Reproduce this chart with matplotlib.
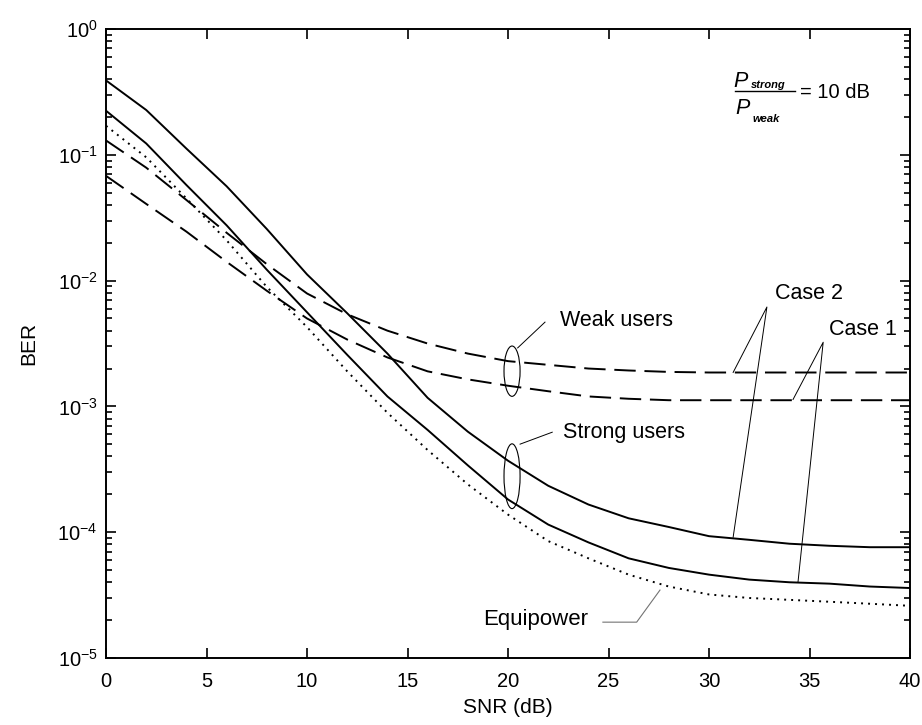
import matplotlib
matplotlib.use("Agg")
import matplotlib.pyplot as plt
from matplotlib.patches import Ellipse
from matplotlib.ticker import LogLocator, NullFormatter, FixedLocator

plt.rcParams['font.family'] = ['Liberation Sans', 'DejaVu Sans']
plt.rcParams['mathtext.fontset'] = 'custom'
plt.rcParams['mathtext.rm'] = 'Liberation Sans'
plt.rcParams['mathtext.it'] = 'Liberation Sans:italic'
plt.rcParams['mathtext.bf'] = 'Liberation Sans:bold'

# SNR grid (dB)
snr = [0, 2, 4, 6, 8, 10, 12, 14, 16, 18, 20, 22, 24, 26, 28, 30, 32, 34, 36, 38, 40]

# Strong users, case 2
strong_case2 = [0.39, 0.227, 0.112, 0.0562, 0.0257, 0.0112, 0.0055, 0.00263, 0.00117,
                6.3e-4, 3.7e-4, 2.34e-4, 1.66e-4, 1.29e-4, 1.10e-4, 9.3e-5, 8.7e-5,
                8.1e-5, 7.8e-5, 7.6e-5, 7.6e-5]
# Strong users, case 1
strong_case1 = [0.224, 0.123, 0.0575, 0.0275, 0.0122, 0.0056, 0.00257, 0.0012, 6.5e-4,
                3.4e-4, 1.82e-4, 1.15e-4, 8.3e-5, 6.2e-5, 5.2e-5, 4.6e-5, 4.2e-5,
                4.0e-5, 3.9e-5, 3.7e-5, 3.6e-5]
# Equal received powers
equipower = [0.17, 0.0955, 0.045, 0.0209, 0.0089, 0.00427, 0.0019, 8.9e-4, 4.5e-4,
             2.4e-4, 1.38e-4, 8.5e-5, 6.2e-5, 4.6e-5, 3.7e-5, 3.2e-5, 3.0e-5,
             2.9e-5, 2.8e-5, 2.7e-5, 2.6e-5]
# Weak users, case 2
weak_case2 = [0.13, 0.079, 0.0437, 0.024, 0.0135, 0.0079, 0.0054, 0.004, 0.00316,
              0.00263, 0.00229, 0.00214, 0.002, 0.00193, 0.00188, 0.00186, 0.00186,
              0.00186, 0.00186, 0.00186, 0.00186]
# Weak users, case 1
weak_case1 = [0.068, 0.0407, 0.0245, 0.0141, 0.0083, 0.005, 0.0034, 0.00245, 0.0019,
              0.00164, 0.00146, 0.00132, 0.0012, 0.00115, 0.00112, 0.00112, 0.00112,
              0.00112, 0.00112, 0.00112, 0.00112]

x_ticks = [0, 5, 10, 15, 20, 25, 30, 35, 40]

fig = plt.figure(figsize=(9.22, 7.25), dpi=100)
ax = fig.add_axes([0.115, 0.0924, 0.872, 0.8676])

lw = 1.4
dash = (0, (11, 4.5))
ax.semilogy(snr, strong_case2, color='black', lw=lw)
ax.semilogy(snr, strong_case1, color='black', lw=lw)
ax.semilogy(snr, equipower, color='black', lw=lw, linestyle=(0, (1.0, 2.6)))
ax.semilogy(snr, weak_case2, color='black', lw=lw, linestyle=dash)
ax.semilogy(snr, weak_case1, color='black', lw=lw, linestyle=dash)

ax.set_xlim(0, 40)
ax.set_ylim(1e-5, 1)
ax.xaxis.set_major_locator(FixedLocator(x_ticks))
ax.yaxis.set_major_locator(LogLocator(base=10, numticks=10))
ax.yaxis.set_minor_locator(LogLocator(base=10, subs=range(2, 10), numticks=20))
ax.yaxis.set_minor_formatter(NullFormatter())
ax.tick_params(which='both', direction='in', top=True, right=True, labelsize=14.5, width=1.2)
ax.tick_params(which='major', length=7)
ax.tick_params(which='minor', length=4)
ax.tick_params(axis='x', pad=10)
ax.tick_params(axis='y', pad=6)
for s in ax.spines.values():
    s.set_linewidth(1.4)

ax.set_xlabel('SNR (dB)', fontsize=15, labelpad=5)
ax.set_ylabel('BER', fontsize=15, labelpad=14)

# annotations
fs = 15.5
ta = ax.transAxes
thin = dict(color='black', lw=0.7)

ax.add_patch(Ellipse((0.505, 0.456), 0.02, 0.08, transform=ta, fill=False, lw=0.8, ec='black'))
ax.plot([0.512, 0.546], [0.493, 0.534], transform=ta, **thin)
ax.text(0.565, 0.536, 'Weak users', transform=ta, fontsize=fs, va='center', ha='left')

ax.add_patch(Ellipse((0.505, 0.289), 0.02, 0.103, transform=ta, fill=False, lw=0.8, ec='black'))
ax.plot([0.515, 0.555], [0.340, 0.359], transform=ta, **thin)
ax.text(0.568, 0.359, 'Strong users', transform=ta, fontsize=fs, va='center', ha='left')

ax.plot([0.780, 0.822, 0.780], [0.454, 0.558, 0.192], transform=ta, **thin)
ax.text(0.874, 0.580, 'Case 2', transform=ta, fontsize=fs, va='center', ha='center')

ax.plot([0.8545, 0.892, 0.8607], [0.411, 0.502, 0.121], transform=ta, **thin)
ax.text(0.9415, 0.523, 'Case 1', transform=ta, fontsize=fs, va='center', ha='center')

ax.plot([0.618, 0.660, 0.689], [0.057, 0.057, 0.108], transform=ta, color='0.45', lw=0.8)
ax.text(0.469, 0.062, 'Equipower', transform=ta, fontsize=16, va='center', ha='left')

# power ratio P_strong / P_weak = 10 dB
ax.text(0.780, 0.9078, 'P', transform=ta, fontsize=15.5, style='italic', va='baseline', ha='left')
ax.text(0.802, 0.9062, 'strong', transform=ta, fontsize=8, style='italic', weight='bold',
        va='baseline', ha='left')
ax.plot([0.782, 0.857], [0.9022, 0.9022], transform=ta, color='black', lw=1.0)
ax.text(0.7823, 0.8648, 'P', transform=ta, fontsize=15.5, style='italic', va='baseline', ha='left')
ax.text(0.8035, 0.8521, 'weak', transform=ta, fontsize=8, style='italic', weight='bold',
        va='baseline', ha='left')
ax.text(0.863, 0.8998, '= 10 dB', transform=ta, fontsize=14.5, va='center', ha='left')

fig.savefig('out.png', dpi=100)
